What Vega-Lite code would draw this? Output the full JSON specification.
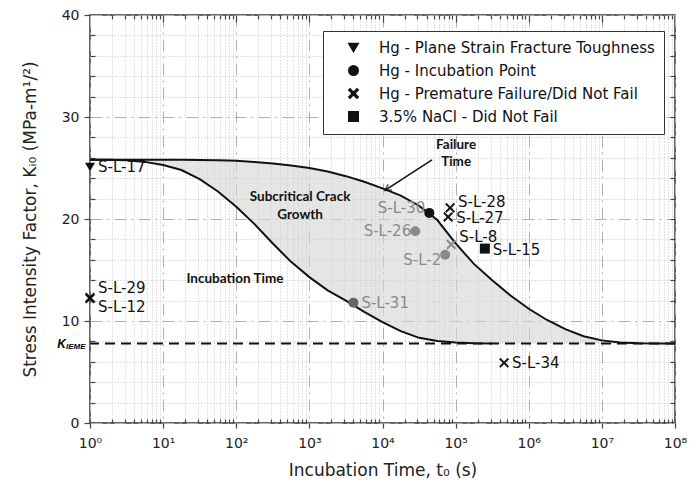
{
  "$schema": "https://vega.github.io/schema/vega-lite/v6.json",
  "width": 585,
  "height": 408,
  "autosize": {"type": "none"},
  "padding": {"left": 90, "top": 15, "right": 23, "bottom": 69},
  "background": "white",
  "config": {
    "view": {"stroke": "#333", "strokeWidth": 1.5},
    "font": "DejaVu Sans",
    "axis": {"labelFont": "DejaVu Sans", "titleFont": "DejaVu Sans", "labelColor": "#222", "titleColor": "#222", "domain": false, "tickColor": "#444", "tickWidth": 1.2}
  },
  "datasets": {
    "curves": [
      {"t": 1, "inc": 25.8, "fail": 25.8},
      {"t": 1.778, "inc": 25.8, "fail": 25.8},
      {"t": 3.162, "inc": 25.75, "fail": 25.8},
      {"t": 5.623, "inc": 25.6, "fail": 25.8},
      {"t": 10, "inc": 25.3, "fail": 25.8},
      {"t": 17.78, "inc": 24.8, "fail": 25.8},
      {"t": 31.62, "inc": 23.9, "fail": 25.78},
      {"t": 56.23, "inc": 22.7, "fail": 25.75},
      {"t": 100, "inc": 21.2, "fail": 25.7},
      {"t": 177.8, "inc": 19.5, "fail": 25.6},
      {"t": 316.2, "inc": 17.6, "fail": 25.45},
      {"t": 562.3, "inc": 15.8, "fail": 25.25},
      {"t": 1000, "inc": 14.3, "fail": 25.0},
      {"t": 1778, "inc": 13.0, "fail": 24.65},
      {"t": 3162, "inc": 12.0, "fail": 24.2},
      {"t": 5623, "inc": 10.9, "fail": 23.65},
      {"t": 10000, "inc": 9.9, "fail": 23.0},
      {"t": 17783, "inc": 9.0, "fail": 22.3},
      {"t": 31623, "inc": 8.35, "fail": 21.3},
      {"t": 56234, "inc": 8.05, "fail": 19.9},
      {"t": 100000, "inc": 7.9, "fail": 17.6},
      {"t": 177828, "inc": 7.83, "fail": 15.6},
      {"t": 316228, "inc": 7.8, "fail": 14.0},
      {"t": 562341, "inc": 7.8, "fail": 12.5},
      {"t": 1000000, "inc": 7.8, "fail": 11.2},
      {"t": 1778279, "inc": 7.8, "fail": 10.1},
      {"t": 3162278, "inc": 7.8, "fail": 9.2},
      {"t": 5623413, "inc": 7.8, "fail": 8.5},
      {"t": 10000000, "inc": 7.8, "fail": 8.1},
      {"t": 17782794, "inc": 7.8, "fail": 7.9},
      {"t": 31622777, "inc": 7.8, "fail": 7.82},
      {"t": 56234133, "inc": 7.8, "fail": 7.8},
      {"t": 100000000, "inc": 7.8, "fail": 7.8}
    ],
    "points": [
      {"id": "S-L-17", "t": 1, "K": 25.1, "type": "Hg - Plane Strain Fracture Toughness", "tone": "dark"},
      {"id": "S-L-29", "t": 1, "K": 12.3, "type": "Hg - Premature Failure/Did Not Fail", "tone": "dark"},
      {"id": "S-L-12", "t": 1, "K": 12.2, "type": "Hg - Premature Failure/Did Not Fail", "tone": "dark"},
      {"id": "S-L-30", "t": 43600, "K": 20.6, "type": "Hg - Incubation Point", "tone": "dark"},
      {"id": "S-L-26", "t": 28000, "K": 18.8, "type": "Hg - Incubation Point", "tone": "light"},
      {"id": "S-L-2", "t": 72000, "K": 16.5, "type": "Hg - Incubation Point", "tone": "light"},
      {"id": "S-L-31", "t": 4000, "K": 11.8, "type": "Hg - Incubation Point", "tone": "mid"},
      {"id": "S-L-28", "t": 84000, "K": 21.1, "type": "Hg - Premature Failure/Did Not Fail", "tone": "dark"},
      {"id": "S-L-27", "t": 79000, "K": 20.2, "type": "Hg - Premature Failure/Did Not Fail", "tone": "dark"},
      {"id": "S-L-8", "t": 87000, "K": 17.5, "type": "Hg - Premature Failure/Did Not Fail", "tone": "light"},
      {"id": "S-L-34", "t": 460000, "K": 5.9, "type": "Hg - Premature Failure/Did Not Fail", "tone": "dark"},
      {"id": "S-L-15", "t": 251000, "K": 17.1, "type": "3.5% NaCl - Did Not Fail", "tone": "dark"}
    ],
    "labelsLeft": [
      {"txt": "S-L-17", "t": 1, "K": 25.1, "tone": "dark"},
      {"txt": "S-L-29", "t": 1, "K": 13.2, "tone": "dark"},
      {"txt": "S-L-12", "t": 1, "K": 11.4, "tone": "dark"},
      {"txt": "S-L-28", "t": 84000, "K": 21.7, "tone": "dark"},
      {"txt": "S-L-27", "t": 79000, "K": 20.1, "tone": "dark"},
      {"txt": "S-L-8", "t": 87000, "K": 18.2, "tone": "dark"},
      {"txt": "S-L-15", "t": 251000, "K": 17.0, "tone": "dark"},
      {"txt": "S-L-31", "t": 4000, "K": 11.8, "tone": "light"},
      {"txt": "S-L-34", "t": 460000, "K": 5.9, "tone": "dark"}
    ],
    "labelsRight": [
      {"txt": "S-L-30", "t": 43600, "K": 21.1, "tone": "light"},
      {"txt": "S-L-26", "t": 28000, "K": 18.8, "tone": "light"},
      {"txt": "S-L-2", "t": 72000, "K": 16.0, "tone": "light"}
    ],
    "notes": [
      {"txt": "Failure", "t": 101600, "K": 27.3},
      {"txt": "Time", "t": 101600, "K": 25.6},
      {"txt": "Subcritical Crack", "t": 746, "K": 22.2},
      {"txt": "Growth", "t": 746, "K": 20.4},
      {"txt": "Incubation Time", "t": 96, "K": 14.1}
    ],
    "arrow": [{"t": 47500, "K": 25.8, "t2": 10800, "K2": 22.8}],
    "threshold": [{"K": 7.8, "t": 1}]
  },
  "resolve": {"scale": {"x": "shared", "y": "shared"}, "axis": {"x": "independent", "y": "independent"}},
  "layer": [
    {
      "data": {"name": "curves"},
      "mark": {"type": "area", "color": "#d4d4d4", "opacity": 0.6},
      "encoding": {
        "x": {"field": "t", "type": "quantitative",
          "scale": {"type": "log", "domain": [1, 100000000], "nice": false},
          "axis": {"orient": "bottom", "values": [1,2,3,4,5,6,7,8,9,10,20,30,40,50,60,70,80,90,100,200,300,400,500,600,700,800,900,1000,2000,3000,4000,5000,6000,7000,8000,9000,10000,20000,30000,40000,50000,60000,70000,80000,90000,100000,200000,300000,400000,500000,600000,700000,800000,900000,1000000,2000000,3000000,4000000,5000000,6000000,7000000,8000000,9000000,10000000,20000000,30000000,40000000,50000000,60000000,70000000,80000000,90000000,100000000],
            "labelExpr": "abs(log(datum.value)/LN10 - round(log(datum.value)/LN10)) < 0.001 ? '10' + ['⁰','¹','²','³','⁴','⁵','⁶','⁷','⁸'][round(log(datum.value)/LN10)] : ''",
            "labelFontSize": 14, "labelPadding": 8, "labelOverlap": false, "labelBound": false, "labelFlush": false,
            "tickSize": {"condition": {"test": "abs(log(datum.value)/LN10 - round(log(datum.value)/LN10)) < 0.001", "value": 5}, "value": -4},
            "grid": true,
            "gridColor": {"condition": {"test": "abs(log(datum.value)/LN10 - round(log(datum.value)/LN10)) < 0.001", "value": "#b0b0b0"}, "value": "#c4c4c4"},
            "gridDash": {"condition": {"test": "abs(log(datum.value)/LN10 - round(log(datum.value)/LN10)) < 0.001", "value": [12, 5, 2, 5]}, "value": [1, 2]},
            "gridWidth": 1,
            "title": "Incubation Time, t₀ (s)", "titleFontSize": 17, "titleFontWeight": "normal", "titlePadding": 12}},
        "y": {"field": "fail", "type": "quantitative",
          "scale": {"domain": [0, 40], "nice": false},
          "axis": {"orient": "left", "values": [0,2,4,6,8,10,12,14,16,18,20,22,24,26,28,30,32,34,36,38,40],
            "labelExpr": "datum.value % 10 == 0 ? datum.label : ''",
            "labelFontSize": 14, "labelPadding": 5, "labelOverlap": false,
            "tickSize": {"condition": {"test": "datum.value % 10 == 0", "value": 6}, "value": -5},
            "grid": true,
            "gridColor": {"condition": {"test": "datum.value % 10 == 0", "value": "#b0b0b0"}, "value": "#c4c4c4"},
            "gridDash": {"condition": {"test": "datum.value % 10 == 0", "value": [12, 5, 2, 5]}, "value": [1, 2]},
            "gridWidth": 1,
            "title": "Stress Intensity Factor, Kᵢ₀ (MPa-m¹/²)", "titleFontSize": 17, "titleFontWeight": "normal", "titlePadding": 22}},
        "y2": {"field": "inc"}
      }
    },
    {
      "data": {"name": "curves"},
      "transform": [{"filter": "datum.t <= 320000"}],
      "mark": {"type": "line", "color": "#111", "strokeWidth": 2},
      "encoding": {
        "x": {"field": "t", "type": "quantitative", "axis": null},
        "y": {"field": "inc", "type": "quantitative", "axis": null}
      }
    },
    {
      "data": {"name": "curves"},
      "mark": {"type": "line", "color": "#111", "strokeWidth": 2},
      "encoding": {
        "x": {"field": "t", "type": "quantitative",
          "axis": {"orient": "top", "values": [2,3,4,5,6,7,8,9,10,20,30,40,50,60,70,80,90,100,200,300,400,500,600,700,800,900,1000,2000,3000,4000,5000,6000,7000,8000,9000,10000,20000,30000,40000,50000,60000,70000,80000,90000,100000,200000,300000,400000,500000,600000,700000,800000,900000,1000000,2000000,3000000,4000000,5000000,6000000,7000000,8000000,9000000,10000000,20000000,30000000,40000000,50000000,60000000,70000000,80000000,90000000],
            "labels": false, "grid": false, "title": null,
            "tickSize": {"condition": {"test": "abs(log(datum.value)/LN10 - round(log(datum.value)/LN10)) < 0.001", "value": -7}, "value": -4}}},
        "y": {"field": "fail", "type": "quantitative",
          "axis": {"orient": "right", "values": [2,4,6,8,10,12,14,16,18,20,22,24,26,28,30,32,34,36,38],
            "labels": false, "grid": false, "title": null, "tickSize": -5}}
      }
    },
    {
      "data": {"name": "threshold"},
      "mark": {"type": "rule", "color": "#111", "strokeWidth": 2, "strokeDash": [10, 6]},
      "encoding": {"y": {"field": "K", "type": "quantitative", "axis": null}}
    },
    {
      "data": {"name": "threshold"},
      "mark": {"type": "text", "text": "K", "font": "Liberation Sans", "fontStyle": "italic", "fontWeight": "bold", "fontSize": 12, "align": "right", "baseline": "middle", "dx": -24, "dy": 1, "clip": false},
      "encoding": {"x": {"field": "t", "type": "quantitative", "axis": null}, "y": {"field": "K", "type": "quantitative", "axis": null}}
    },
    {
      "data": {"name": "threshold"},
      "mark": {"type": "text", "text": "IEME", "font": "Liberation Sans", "fontStyle": "italic", "fontWeight": "bold", "fontSize": 8, "align": "left", "baseline": "middle", "dx": -24, "dy": 4, "clip": false},
      "encoding": {"x": {"field": "t", "type": "quantitative", "axis": null}, "y": {"field": "K", "type": "quantitative", "axis": null}}
    },
    {
      "data": {"name": "arrow"},
      "mark": {"type": "rule", "color": "#111", "strokeWidth": 1.6},
      "encoding": {
        "x": {"field": "t", "type": "quantitative", "axis": null},
        "y": {"field": "K", "type": "quantitative", "axis": null},
        "x2": {"field": "t2"},
        "y2": {"field": "K2"}
      }
    },
    {
      "data": {"name": "arrow"},
      "mark": {"type": "point", "shape": "M-1,-0.55L0,0L-1,0.55", "filled": false, "stroke": "#111", "strokeWidth": 1.6, "size": 150, "angle": 147},
      "encoding": {
        "x": {"field": "t2", "type": "quantitative", "axis": null},
        "y": {"field": "K2", "type": "quantitative", "axis": null}
      }
    },
    {
      "data": {"name": "notes"},
      "mark": {"type": "text", "font": "Lato", "fontWeight": "bold", "fontSize": 13.5, "align": "center", "baseline": "middle", "color": "#111"},
      "encoding": {
        "x": {"field": "t", "type": "quantitative", "axis": null},
        "y": {"field": "K", "type": "quantitative", "axis": null},
        "text": {"field": "txt"}
      }
    },
    {
      "data": {"name": "labelsLeft"},
      "mark": {"type": "text", "font": "DejaVu Sans", "fontSize": 15, "align": "left", "baseline": "middle", "dx": 8},
      "encoding": {
        "x": {"field": "t", "type": "quantitative", "axis": null},
        "y": {"field": "K", "type": "quantitative", "axis": null},
        "text": {"field": "txt"},
        "color": {"field": "tone", "type": "nominal", "scale": {"domain": ["dark", "mid", "light"], "range": ["#111111", "#666666", "#8a8a8a"]}, "legend": null}
      }
    },
    {
      "data": {"name": "labelsRight"},
      "mark": {"type": "text", "font": "DejaVu Sans", "fontSize": 15, "align": "right", "baseline": "middle", "dx": -4},
      "encoding": {
        "x": {"field": "t", "type": "quantitative", "axis": null},
        "y": {"field": "K", "type": "quantitative", "axis": null},
        "text": {"field": "txt"},
        "color": {"field": "tone", "type": "nominal", "scale": {"domain": ["dark", "mid", "light"], "range": ["#111111", "#666666", "#8a8a8a"]}, "legend": null}
      }
    },
    {
      "data": {"name": "points"},
      "mark": {"type": "point", "filled": true, "size": 100, "opacity": 1},
      "encoding": {
        "x": {"field": "t", "type": "quantitative", "axis": null},
        "y": {"field": "K", "type": "quantitative", "axis": null},
        "shape": {"field": "type", "type": "nominal",
          "scale": {"domain": ["Hg - Plane Strain Fracture Toughness", "Hg - Incubation Point", "Hg - Premature Failure/Did Not Fail", "3.5% NaCl - Did Not Fail"],
            "range": ["triangle-down", "circle", "M-1,-0.72L-0.72,-1L0,-0.28L0.72,-1L1,-0.72L0.28,0L1,0.72L0.72,1L0,0.28L-0.72,1L-1,0.72L-0.28,0Z", "square"]},
          "legend": {"orient": "none", "legendX": 233, "legendY": 16, "title": null, "labelFont": "DejaVu Sans", "labelFontSize": 15, "labelColor": "#111",
            "symbolFillColor": "#111", "symbolStrokeColor": "#111", "symbolSize": 90, "symbolOffset": 14, "labelOffset": 18, "rowPadding": 6,
            "padding": 9, "strokeColor": "#333", "fillColor": "white", "labelLimit": 400}},
        "color": {"field": "tone", "type": "nominal", "scale": {"domain": ["dark", "mid", "light"], "range": ["#111111", "#666666", "#8a8a8a"]}, "legend": null}
      }
    }
  ]
}
